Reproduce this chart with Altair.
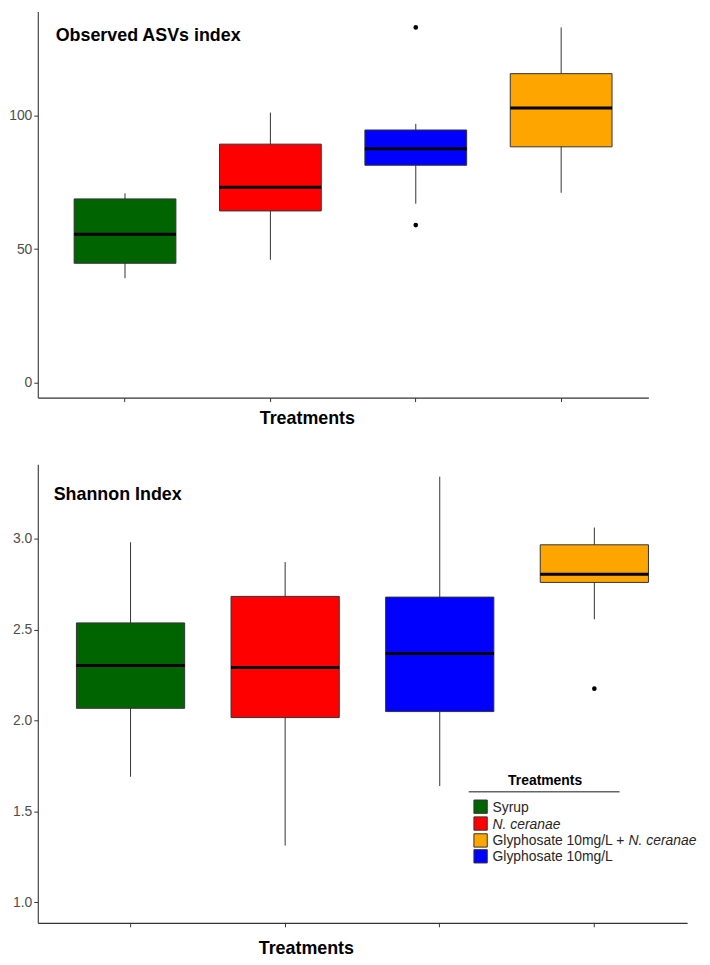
import altair as alt
import pandas as pd

FONT = "Liberation Sans"

treatments = ["Syrup", "N. ceranae", "Glyphosate 10mg/L", "Glyphosate 10mg/L + N. ceranae"]
colors = ["#006400", "#FF0000", "#0000FF", "#FFA500"]

# Observed ASVs index (box statistics)
obs_lo = [39.1, 46.0, 67.0, 71.1]
obs_q1 = [44.7, 64.3, 81.4, 88.3]
obs_med = [55.6, 73.2, 87.6, 102.8]
obs_q3 = [68.8, 89.3, 94.6, 115.7]
obs_hi = [70.9, 101.1, 96.9, 133.0]
obs_out_t = ["Glyphosate 10mg/L", "Glyphosate 10mg/L"]
obs_out_v = [133.0, 59.0]
obs_ticks = [0, 50, 100]

# Shannon index
sh_lo = [1.690, 1.311, 1.639, 2.557]
sh_q1 = [2.067, 2.016, 2.049, 2.760]
sh_med = [2.302, 2.291, 2.369, 2.805]
sh_q3 = [2.537, 2.683, 2.679, 2.967]
sh_hi = [2.981, 2.872, 3.342, 3.062]
sh_out_t = ["Glyphosate 10mg/L + N. ceranae"]
sh_out_v = [2.175]
sh_ticks = [1.0, 1.5, 2.0, 2.5, 3.0]

legend_order = ["Syrup", "N. ceranae", "Glyphosate 10mg/L + N. ceranae", "Glyphosate 10mg/L"]
legend_colors = ["#006400", "#FF0000", "#FFA500", "#0000FF"]


def panel(lo, q1, med, q3, hi, out_t, out_v, ydomain, yticks, yfmt,
          width, height, title, title_x, title_y, axis_title_x, axis_title_y):
    df = pd.DataFrame({"t": treatments, "lo": lo, "q1": q1, "med": med, "q3": q3, "hi": hi})
    odf = pd.DataFrame({"t": out_t, "v": out_v})
    xs = alt.Scale(domain=treatments, paddingInner=0.3, paddingOuter=0.25)
    ys = alt.Scale(domain=ydomain, nice=False, zero=False)
    xaxis = alt.Axis(title="Treatments", labels=False, ticks=True, tickSize=4,
                     tickColor="#333333", domainColor="#333333", domainWidth=1.1,
                     titleFontSize=18, titleFontWeight="bold", titleColor="black",
                     titleFont=FONT, titleX=axis_title_x, titleY=axis_title_y,
                     titleAlign="center", titleBaseline="alphabetic", grid=False)
    yaxis = alt.Axis(title=None, values=yticks, format=yfmt, tickSize=4,
                     tickColor="#333333", domainColor="#333333", domainWidth=1.1,
                     labelFontSize=14, labelColor="#4d4d4d", labelFont=FONT,
                     labelPadding=2, grid=False)
    x = alt.X("t:N", scale=xs, sort=treatments, axis=xaxis)
    base = alt.Chart(df)
    whisk = base.mark_rule(color="#333333", strokeWidth=1).encode(
        x=x, y=alt.Y("lo:Q", scale=ys, axis=yaxis), y2="hi:Q")
    box = base.mark_bar(stroke="#333333", strokeWidth=1, opacity=1).encode(
        x=x, y=alt.Y("q1:Q", scale=ys), y2="q3:Q",
        color=alt.Color("t:N", scale=alt.Scale(domain=treatments, range=colors), legend=None))
    bw = 0.7 * width / 4.2
    medl = base.mark_tick(color="black", thickness=3, size=bw, opacity=1).encode(
        x=x, y=alt.Y("med:Q", scale=ys))
    out = alt.Chart(odf).mark_circle(color="black", size=22, opacity=1).encode(
        x=x, y=alt.Y("v:Q", scale=ys))
    lab = alt.Chart(pd.DataFrame({"s": [title]})).mark_text(
        align="left", baseline="alphabetic", fontSize=18, fontWeight="bold",
        font=FONT, color="black").encode(
        x=alt.value(title_x), y=alt.value(title_y), text="s:N")
    return [whisk, box, medl, out, lab]


top_layers = panel(obs_lo, obs_q1, obs_med, obs_q3, obs_hi, obs_out_t, obs_out_v,
                   [-5.6, 139.0], obs_ticks, "d", 615, 389,
                   "Observed ASVs index", 18, 30, 271, 25.7)
top = alt.layer(*top_layers).properties(width=615, height=389)

bot_layers = panel(sh_lo, sh_q1, sh_med, sh_q3, sh_hi, sh_out_t, sh_out_v,
                   [0.886, 3.411], sh_ticks, ".1f", 654, 462,
                   "Shannon Index", 16, 36.3, 270, 31)

# manual legend inside the lower panel
one = pd.DataFrame({"s": ["Treatments"]})
leg = [
    alt.Chart(one).mark_text(align="center", baseline="middle", fontSize=14,
                             fontWeight="bold", font=FONT, color="black").encode(
        x=alt.value(511), y=alt.value(319), text="s:N"),
    alt.Chart(one).mark_rule(color="#666666", strokeWidth=1.5).encode(
        x=alt.value(434), x2=alt.value(586), y=alt.value(330)),
]
leg_y = [345, 362, 379, 395]
for name, col, yy in zip(legend_order, legend_colors, leg_y):
    leg.append(alt.Chart(pd.DataFrame({"s": [name]})).mark_square(
        size=180, color=col, opacity=1, stroke="#333333", strokeWidth=1).encode(
        x=alt.value(446), y=alt.value(yy)))
    if name == "Glyphosate 10mg/L + N. ceranae":
        parts = [("Glyphosate 10mg/L + ", "normal", 458), ("N. ceranae", "italic", 595)]
    elif name == "N. ceranae":
        parts = [(name, "italic", 458)]
    else:
        parts = [(name, "normal", 458)]
    for txt, style, xx in parts:
        leg.append(alt.Chart(pd.DataFrame({"s": [txt]})).mark_text(
            align="left", baseline="middle", fontSize=14, fontStyle=style,
            font=FONT, color="#262626").encode(
            x=alt.value(xx), y=alt.value(yy + 1), text="s:N"))

bottom = alt.layer(*(bot_layers + leg)).properties(width=654, height=462)

chart = alt.vconcat(top, bottom, spacing=37).properties(
    padding={"left": 0, "top": 0, "right": 5, "bottom": 0}
).configure(font=FONT, background="white").configure_view(stroke=None)

chart.save("out.html", embed_options={"renderer": "svg", "actions": False})
